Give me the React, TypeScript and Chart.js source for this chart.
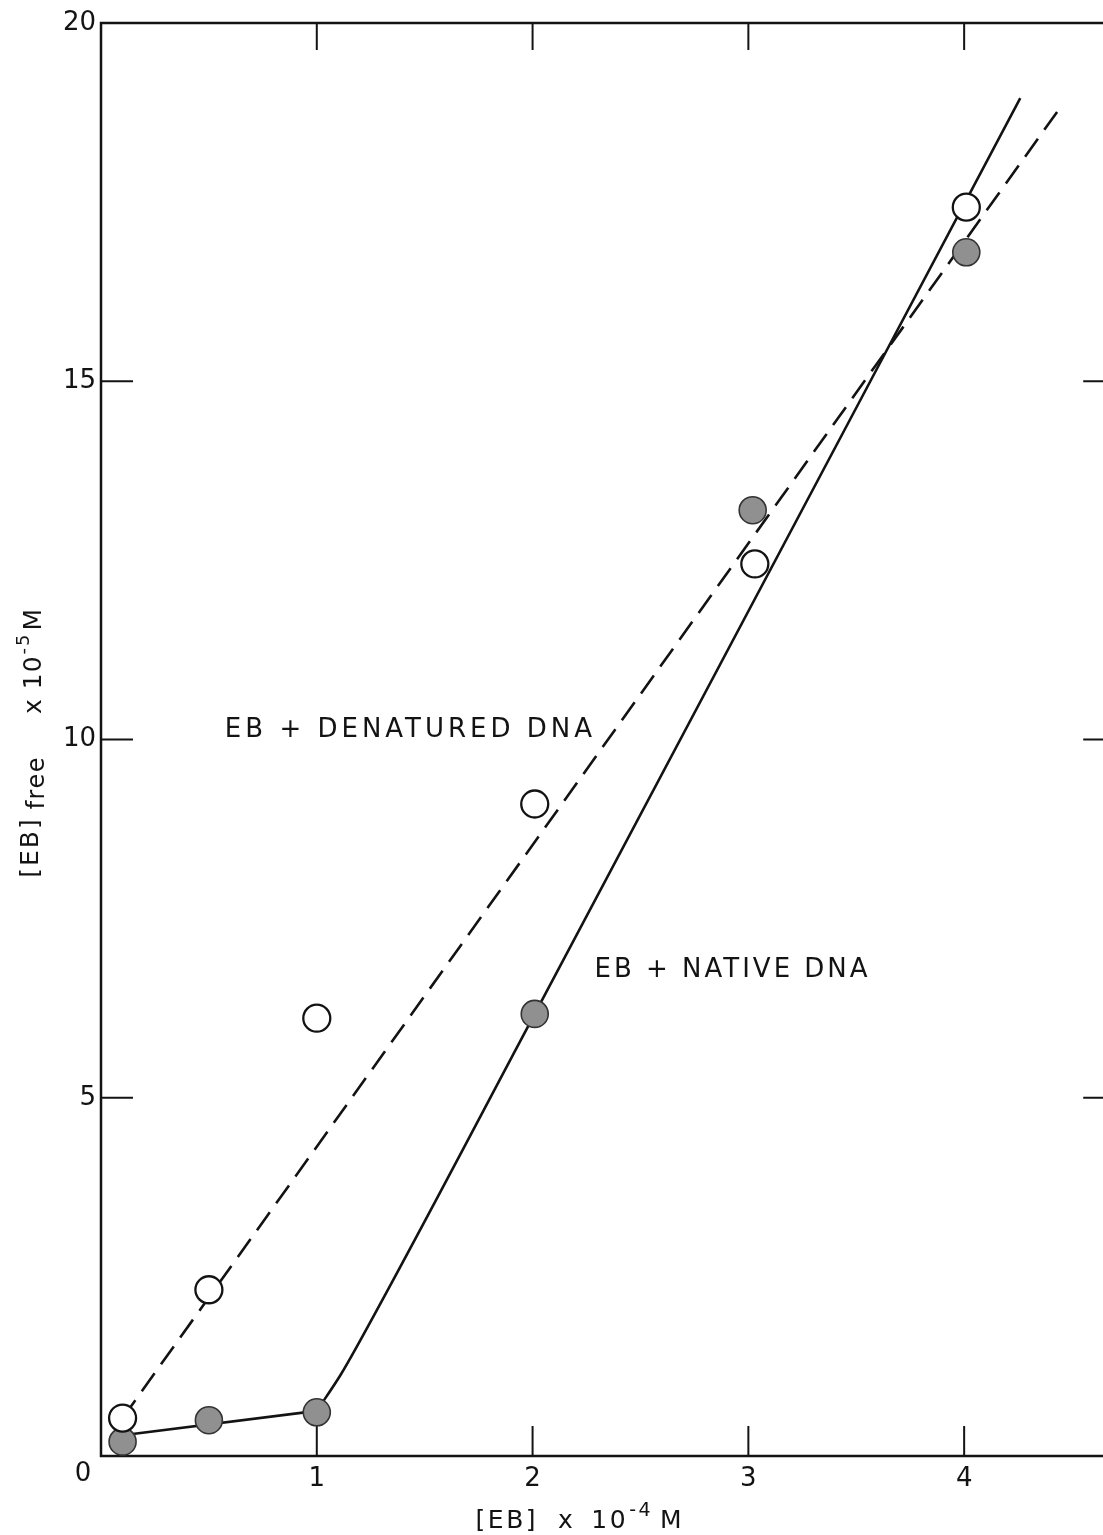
import React, { useEffect, useRef } from "react";
import { Chart, registerables } from "chart.js";

Chart.register(...registerables);

// ---- data ----
// open circles: EB + denatured DNA
const denaturedX = [0.1, 0.5, 1.0, 2.01, 3.03, 4.01];
const denaturedY = [0.53, 2.32, 6.11, 9.1, 12.45, 17.43];
// filled circles: EB + native DNA
const nativeX = [0.1, 0.5, 1.0, 2.01, 3.02, 4.01];
const nativeY = [0.2, 0.5, 0.61, 6.17, 13.2, 16.8];
// hand-drawn curves through the points
const denaturedFitX = [0.1, 4.45];
const denaturedFitY = [0.53, 18.84];
const nativeLowFitX = [0.1, 1.0];
const nativeLowFitY = [0.29, 0.63];
const nativeRiseFitX = [1.0, 1.11, 1.19, 2.01, 4.26];
const nativeRiseFitY = [0.63, 1.13, 1.55, 6.17, 18.95];
// axes
const xTicks = [1, 2, 3, 4];
const yTicks = [5, 10, 15, 20];
const xMin = 0;
const xMax = 4.7;
const yMin = 0;
const yMax = 20;

const FONT = "'DejaVu Sans', 'Liberation Sans', sans-serif";
const INK = "#131313";

type Seg = { t: string; size: number; dy: number; gap?: number; sp?: number };

function drawSegs(ctx: CanvasRenderingContext2D, segs: Seg[], x: number, y: number, spacing: number) {
  let cx = x;
  for (const s of segs) {
    cx += s.gap || 0;
    ctx.font = `${s.size}px ${FONT}`;
    (ctx as any).letterSpacing = `${s.sp ?? spacing}px`;
    ctx.fillText(s.t, cx, y + s.dy);
    cx += ctx.measureText(s.t).width;
  }
  (ctx as any).letterSpacing = "0px";
}

const framePlugin = {
  id: "frameAndText",
  beforeDatasetsDraw(chart: any) {
    const { ctx, chartArea: a, scales } = chart;
    ctx.save();
    ctx.strokeStyle = INK;
    ctx.lineWidth = 2.5;
    ctx.strokeRect(a.left, a.top, a.right - a.left, a.bottom - a.top);
    ctx.lineWidth = 2;
    const L = 30;
    const seg = (x1: number, y1: number, x2: number, y2: number) => {
      ctx.beginPath();
      ctx.moveTo(x1, y1);
      ctx.lineTo(x2, y2);
      ctx.stroke();
    };
    xTicks.forEach((v) => {
      const px = scales.x.getPixelForValue(v);
      seg(px, a.bottom, px, a.bottom - L);
      seg(px, a.top, px, a.top + L - 3);
    });
    yTicks
      .filter((v) => v > yMin && v < yMax)
      .forEach((v) => {
        const py = scales.y.getPixelForValue(v);
        seg(a.left, py, a.left + L + 2, py);
        seg(a.right, py, a.right - L - 2, py);
      });
    ctx.restore();
  },
  afterDraw(chart: any) {
    const { ctx, chartArea: a, scales } = chart;
    ctx.save();
    ctx.fillStyle = INK;

    // shared origin label
    ctx.font = `26px ${FONT}`;
    ctx.textAlign = "center";
    ctx.textBaseline = "middle";
    ctx.fillText("0", scales.x.getPixelForValue(0) - 18, scales.y.getPixelForValue(0) + 18);
    ctx.textAlign = "left";
    ctx.textBaseline = "alphabetic";

    // x axis title
    drawSegs(
      ctx,
      [
        { t: "[EB]", size: 25, dy: 0 },
        { t: "x", size: 25, dy: 0, gap: 20 },
        { t: "10", size: 25, dy: 0, gap: 16 },
        { t: "-4", size: 19, dy: -12, gap: 1 },
        { t: "M", size: 25, dy: 0, gap: 7 },
      ],
      scales.x.getPixelForValue(1.736),
      a.bottom + 72,
      2.5
    );

    // y axis title (rotated)
    ctx.save();
    ctx.translate(41, scales.y.getPixelForValue(8.07));
    ctx.rotate(-Math.PI / 2);
    drawSegs(
      ctx,
      [
        { t: "[EB]", size: 25, dy: -3 },
        { t: "free", size: 24, dy: 3, gap: 8, sp: 1.5 },
        { t: "x", size: 25, dy: 0, gap: 42 },
        { t: "10", size: 25, dy: 0, gap: 8, sp: 1 },
        { t: "-5", size: 18, dy: -12, gap: 1 },
        { t: "M", size: 25, dy: 0, gap: 2 },
      ],
      0,
      0,
      2
    );
    ctx.restore();

    // series annotations
    drawSegs(
      ctx,
      [{ t: "EB + DENATURED DNA", size: 26, dy: 0 }],
      scales.x.getPixelForValue(0.574),
      scales.y.getPixelForValue(10.03),
      4
    );
    drawSegs(
      ctx,
      [{ t: "EB + NATIVE DNA", size: 26, dy: 0 }],
      scales.x.getPixelForValue(2.287),
      scales.y.getPixelForValue(6.68),
      3
    );
    ctx.restore();
  },
};

export default function App() {
  const ref = useRef<HTMLCanvasElement | null>(null);

  useEffect(() => {
    if (!ref.current) return;
    const pts = (xs: number[], ys: number[]) => xs.map((x, i) => ({ x, y: ys[i] }));
    const lineBase = {
      showLine: true,
      pointRadius: 0,
      pointHoverRadius: 0,
      borderColor: INK,
      borderWidth: 2.6,
      order: 1,
    };
    const chart = new Chart(ref.current, {
      type: "scatter",
      data: {
        datasets: [
          {
            label: "EB + DENATURED DNA",
            data: pts(denaturedX, denaturedY),
            pointRadius: 13.5,
            pointHoverRadius: 13.5,
            pointBackgroundColor: "#ffffff",
            pointBorderColor: INK,
            pointBorderWidth: 2.3,
            order: 0,
          },
          {
            label: "EB + NATIVE DNA",
            data: pts(nativeX, nativeY),
            pointRadius: 13.5,
            pointHoverRadius: 13.5,
            pointBackgroundColor: "#909090",
            pointBorderColor: "#333333",
            pointBorderWidth: 1.6,
            order: 0,
          },
          {
            ...lineBase,
            label: "denatured fit",
            data: pts(denaturedFitX, denaturedFitY),
            borderDash: [22, 11],
          },
          {
            ...lineBase,
            label: "native fit (plateau)",
            data: pts(nativeLowFitX, nativeLowFitY),
          },
          {
            ...lineBase,
            label: "native fit (rise)",
            data: pts(nativeRiseFitX, nativeRiseFitY),
            cubicInterpolationMode: "monotone",
          },
        ],
      },
      options: {
        animation: false,
        responsive: false,
        events: [],
        layout: { padding: { top: 23, right: 4, left: 0, bottom: 0 } },
        plugins: { legend: { display: false }, tooltip: { enabled: false } },
        scales: {
          x: {
            type: "linear",
            min: xMin,
            max: xMax,
            afterBuildTicks: (s: any) => {
              s.ticks = xTicks.map((v) => ({ value: v }));
            },
            afterFit: (s: any) => {
              s.height = 79;
            },
            grid: { display: false, drawTicks: false },
            border: { display: false },
            ticks: {
              font: { family: FONT, size: 26 },
              color: INK,
              padding: 8,
              maxRotation: 0,
              autoSkip: false,
            },
          },
          y: {
            type: "linear",
            min: yMin,
            max: yMax,
            afterBuildTicks: (s: any) => {
              s.ticks = yTicks.map((v) => ({ value: v }));
            },
            afterFit: (s: any) => {
              s.width = 101;
            },
            grid: { display: false, drawTicks: false },
            border: { display: false },
            ticks: {
              font: { family: FONT, size: 26 },
              color: INK,
              padding: 5,
              autoSkip: false,
            },
          },
        },
      } as any,
      plugins: [framePlugin],
    });
    return () => chart.destroy();
  }, []);

  return (
    <div
      style={{
        position: "fixed",
        left: 0,
        top: 0,
        width: 1103,
        height: 1535,
        overflow: "hidden",
        background: "#ffffff",
      }}
    >
      <canvas ref={ref} width={1131} height={1535} style={{ display: "block" }} />
    </div>
  );
}
